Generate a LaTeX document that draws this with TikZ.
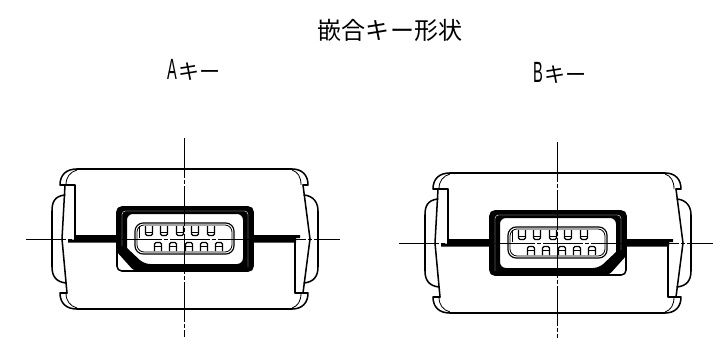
\documentclass[tikz,border=0pt]{standalone}
\usepackage{fontspec}
\newfontfamily\cjk{Noto Sans CJK JP}
\setmainfont{Liberation Sans}
\tikzset{
  outline/.style={line width=1.3pt, line join=round, line cap=round},
  thinline/.style={line width=0.7pt},
  centerline/.style={line width=0.55pt, dash pattern=on 34pt off 1.5pt on 4pt off 1.5pt},
  pin/.style={line width=1.05pt, rounded corners=1.2pt},
  label/.style={inner sep=0pt, font=\cjk}
}
% one key: centre x, centre y, side of the chamfer
\newcommand{\drawkey}[3]{
\begin{scope}[shift={(#1,#2)}]
% body
\draw[outline] (-107,-70) -- (108,-70);
\draw[outline] (-107,70) -- (108,70);
\draw[outline] (-107,-70) .. controls (-118,-70) and (-124,-64) .. (-124,-54) -- (-109,-54) -- (-109,-3);
\draw[thinline] (-107,-69) .. controls (-114,-67) and (-118,-62) .. (-118,-54);
\draw[outline] (108,-70) .. controls (118,-70) and (124,-64) .. (124,-54) -- (119,-54);
\draw[thinline] (108,-69) .. controls (114,-67) and (117,-62) .. (117,-54);
\draw[outline] (-107,70) .. controls (-118,70) and (-124,64) .. (-124,54) -- (-117,54);
\draw[thinline] (-107,69) .. controls (-114,67) and (-118,62) .. (-118,54);
\draw[outline] (108,70) .. controls (118,70) and (124,64) .. (124,54) -- (111,54) -- (111,2);
\draw[thinline] (108,69) .. controls (114,67) and (117,62) .. (117,54);
\draw[outline] (-119,-54) -- (-122,0) -- (-117,54);
\draw[outline] (119,-54) -- (126,0) -- (119,54);
\draw[outline] (-119,-44) .. controls (-130,-43) and (-132,-36) .. (-132,-28) -- (-132,28) .. controls (-132,37) and (-128,43) .. (-118,44);
\draw[outline] (120,-44) .. controls (130,-43) and (134,-36) .. (134,-28) -- (134,28) .. controls (134,37) and (130,43) .. (120,44);
% parting line
\fill (-110,-4) -- (-68,-4) -- (-68,3.5) -- (-116,3.5) -- (-116,0.5) -- (-110,0.5) -- cycle;
\fill (69,-4) -- (116,-4) -- (116,-1) -- (112,-1) -- (112,3.5) -- (69,3.5) -- cycle;
% shell
\begin{scope}[shift={(1,0)},xscale=#3]
\draw[outline, fill=white, rounded corners=4pt] (-68,-32) rectangle (68,32);
\fill[even odd rule] [rounded corners=3pt] (-68,-32) -- (68,-32) -- (68,32) -- (-51,32) [sharp corners] -- (-68,13) [rounded corners=3pt] -- cycle
  [rounded corners=5pt] (-58,-25) -- (58,-25) -- (58,25) -- (-41,25) [sharp corners] -- (-58,9) [rounded corners=5pt] -- cycle;
\draw[white, line width=0.3pt, rounded corners=3pt] (-63,7) -- (-63,-28) -- (63,-28) -- (63,28);
\end{scope}
% receptacle
\draw[outline, line width=1pt, rounded corners=7pt] (-49,-16) rectangle (50,15);
\draw[thinline, rounded corners=6pt] (-47,-14) rectangle (48,13);
\draw[thinline] (-45,-13) -- (-45,-1);
% contacts
\foreach \px in {-35,-20,-4,11,27}{
  \draw[pin] (\px-3.5,-13) -- (\px-3.5,-3.5) -- (\px+3.5,-3.5) -- (\px+3.5,-13);
  \draw[thinline] (\px-3.5,-7) -- (\px+3.5,-7);
}
\foreach \px in {-26,-11,5,20,35}{
  \draw[pin] (\px-3.5,12) -- (\px-3.5,3.5) -- (\px+3.5,3.5) -- (\px+3.5,12);
  \draw[thinline] (\px-3.5,7) -- (\px+3.5,7);
}
% centre lines
\draw[centerline] (-158,0) -- (156,0);
\draw[centerline] (0,-101) -- (0,98);
\end{scope}
}
\begin{document}
\begin{tikzpicture}[x=0.03cm,y=-0.03cm]
\useasboundingbox (0,0) rectangle (716,338);
\drawkey{184}{239}{1}
\drawkey{557}{243}{-1}
\node[label, font=\cjk\fontsize{20.5}{20.5}\selectfont] (title) at (390,30) {嵌合キー形状};
\node[label] (keya) at (194,70) {\scalebox{0.5}[1]{\fontsize{25}{25}\selectfont\rmfamily A}\,{\cjk\fontsize{18}{18}\selectfont キー}};
\node[label] (keyb) at (560,73) {\scalebox{0.5}[1]{\fontsize{25}{25}\selectfont\rmfamily B}\,{\cjk\fontsize{18}{18}\selectfont キー}};
\end{tikzpicture}
\end{document}
